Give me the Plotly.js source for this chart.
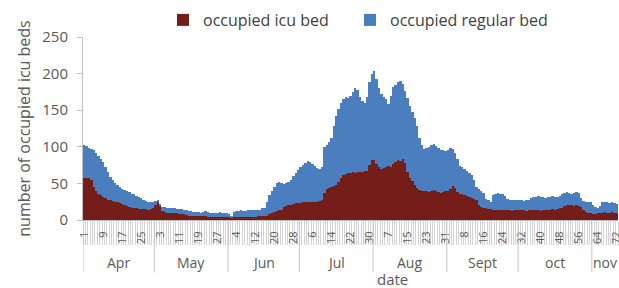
<!DOCTYPE html>
<html><head><meta charset="utf-8">
<script src="https://cdn.plot.ly/plotly-3.0.1.min.js"></script>
<style>html,body{margin:0;padding:0;background:#fff}#chart{width:619px;height:288px}</style>
</head><body><div id="chart"></div>
<script>
// month groups of the category axis
const monthNames = ['Apr','May','Jun','Jul','Aug','Sept','oct','nov'];
const monthLengths = [30,31,30,31,31,30,31,11];
// day tick labels (every 8th day, as printed on the chart)
const dayTickText = ['1','9','17','25','3','11','19','27','4','12','20','28','6','14','22','30','7','15','23','31','8','16','24','32','40','48','56','64','72'];
const dayTickStep = 8;

// occupied icu beds per day (Apr 1 .. Nov 11)
const icuBeds = [
  // Apr
  58,58,57,55,45,39,36,34,31,30, 28,27,26,25,24,23,22,20,19,18, 17,16,16,15,15,15,15,14,15,17,
  // May
  21,24,19, 12,11,10,10,9,9,9,8,8,8,7, 6,6,6,5,5,5,5,5,4,4,4,4,4,4,4,4,4,
  // Jun
  4,3, 4,4,4,4,4,4,4,4,4,4,5,5,5,6,6, 8,10,11,12,13,14, 18,19,20,21,22,23,23,
  // Jul
  23,24,24,25,24,25,25,24,26,28, 37,42,44,45,46,48,52,58,62,63, 64,64,65,64,65,66,66,67,67,75, 82,
  // Aug
  82,76,72,70,71,73,74,72,76,79, 82,80,84,78,66,58,53,48,44,41, 39,40,39,38,39,41,40,38,37,38, 39,
  // Sept
  40,43,46,44,38, 36,35,34,33,32,30,29,28, 20,18,17,16,15,15,14,14, 13,14,13,13,14,13,12,13,14,
  // oct
  13,14,13,12,13,14,13,14,13,12,13,14,13,14,15,14,15,16,17, 19,20,21,20,19,20,19,18, 13,11,10,9,
  // nov
  8,8,9,10,10,11,10,10,11,10,10
];
// top of each column: icu + regular beds occupied per day
const totalBeds = [
  // Apr
  102,101,99,97,95,92,88,84,79,72, 65,59,55,51,48,45,43,41,40,38, 36,35,33,31,30,28,26,25,24,24,
  // May
  26,28,22, 18,18,17,17,16,16,15,15,15,14,14, 12,12,11,11,11,10,11,12,11,10,10,9,10,11,10,9,9,
  // Jun
  8,6, 11,12,12,13,12,12,13,13,14,13,14,14, 16,17,24,34, 40,45,50,52,51,49,50,52,55,60, 64,68,
  // Jul
  72,75,78,80,79,76,74,71,70,72, 100,102,106,112,128,142,152,160,165,168, 166,170,175,181,178,168,163,160,168,188, 200,
  // Aug
  203,192,180,172,168,165,158,170,182,185, 188,190,186,176,166,156,148,140,128,112, 102,97,98,100,103,104,101,98,96,95, 94,
  // Sept
  96,99,97,92,84, 74,72,70,67,64,62, 55, 45,43,40,37, 29,27,25, 34,36,37,36,35,33, 29,28,28,27,27,
  // oct
  28,27,26,27,28, 30,31,32,33,32,31,30,31,32,33,32,31,33, 36,37,38,37,36,37,38,37, 30,26,25,24,25,
  // nov
  20,18,17,19,24,25,24,23,24,23,22
];

const nDays = monthLengths.reduce((a,b)=>a+b,0);
const dayIndex = Array.from({length:nDays},(_,i)=>i);
const tickVals = dayTickText.map((_,i)=>i*dayTickStep);
const monthStarts = []; let acc = 0;
monthLengths.forEach(l=>{monthStarts.push(acc); acc += l;});
const boundaries = monthStarts.map(s=>s-0.5);
const centers = monthStarts.map((s,i)=>s + monthLengths[i]/2 - 0.5);

const FONT = 'Open Sans, Lato, sans-serif';
const GRAY = '#595959';
const PLOT_H = 203; // px height of plot area, used for paper-relative offsets
const xr = [-0.5, nDays-0.5];

const traces = [
  {type:'bar', x:dayIndex, y:totalBeds, name:'occupied regular bed', legend:'legend2', showlegend:true,
   marker:{color:'#4a7ebf', line:{width:0}}, hoverinfo:'skip'},
  {type:'bar', x:dayIndex, y:icuBeds, name:'occupied icu bed', legend:'legend', showlegend:true,
   marker:{color:'#751d19', line:{width:0}}, hoverinfo:'skip'}
];

const shapes = boundaries.map(b=>({type:'line', xref:'x', yref:'paper', x0:b, x1:b,
  y0:0, y1:-58/PLOT_H, line:{color:'#c4c4c4', width:1}, layer:'above'}));

const annotations = monthNames.map((m,i)=>({text:m, xref:'x', yref:'paper', x:centers[i],
  y:-47/PLOT_H, showarrow:false, xanchor:'center', yanchor:'middle', font:{size:14, color:GRAY}}));
annotations.push({text:'date', xref:'paper', yref:'paper', x:(392-83)/535, y:-66/PLOT_H,
  showarrow:false, xanchor:'center', yanchor:'middle', font:{size:15, color:GRAY}});

const layout = {
  width:619, height:288,
  margin:{l:83, r:1, t:17, b:68},
  paper_bgcolor:'#fff', plot_bgcolor:'#fff',
  font:{family:FONT, color:GRAY},
  showlegend:true,
  barmode:'overlay', bargap:0,
  xaxis:{range:xr, tickmode:'array', tickvals:tickVals, ticktext:dayTickText, tickangle:-90,
         ticks:'', ticklabelstandoff:6, ticklabeloverflow:'allow', tickfont:{size:11, color:GRAY},
         showline:true, linecolor:'#bfbfbf', showgrid:false, zeroline:false,
         minor:{ticks:'outside', tickmode:'linear', tick0:-0.5, dtick:1, ticklen:24, tickcolor:'#d2d2d2', tickwidth:1, showgrid:false}},
  yaxis:{range:[0,250], dtick:50, ticks:'outside', ticklen:5, tickcolor:'#bfbfbf',
         showline:true, linecolor:'#bfbfbf', showgrid:false, zeroline:false,
         ticklabelstandoff:6, tickfont:{size:15, color:GRAY},
         title:{text:'number of occupied icu beds', font:{size:16, color:GRAY}, standoff:7}},
  legend:{orientation:'h', xref:'container', yref:'container', x:163/619, y:1-3/288,
          xanchor:'left', yanchor:'top', font:{size:16, color:'#404040'}, bgcolor:'rgba(0,0,0,0)'},
  legend2:{orientation:'h', xref:'container', yref:'container', x:350/619, y:1-3/288,
          xanchor:'left', yanchor:'top', font:{size:16, color:'#404040'}, bgcolor:'rgba(0,0,0,0)'},
  shapes:shapes,
  annotations:annotations
};

Plotly.newPlot('chart', traces, layout, {displayModeBar:false, staticPlot:true});
</script>
</body></html>
